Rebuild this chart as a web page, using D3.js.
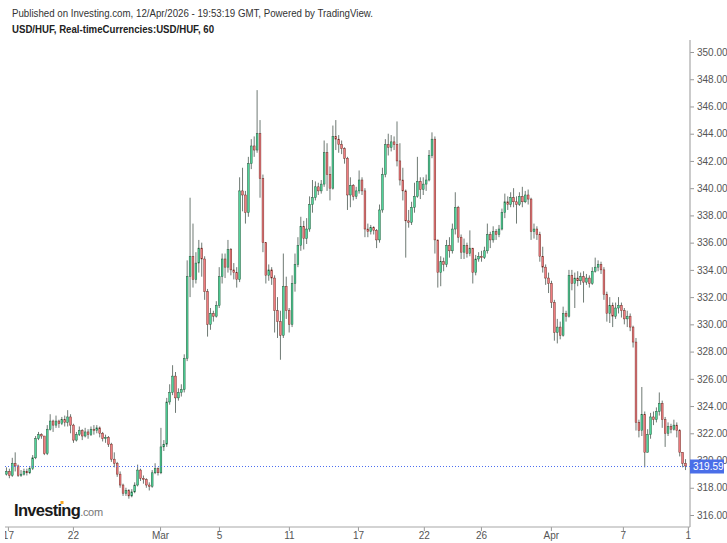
<!DOCTYPE html>
<html><head><meta charset="utf-8">
<script src="https://cdn.jsdelivr.net/npm/d3@7/dist/d3.min.js"></script>
<style>
body{margin:0;background:#fff}
svg{display:block}
text{font-family:Arial,"Liberation Sans",sans-serif}
</style>
</head><body>
<svg id="chart" width="727" height="543"></svg>
<script>
// ---------- DATA (4-hour candles, USD/HUF) ----------
const firstOpen = 319.0;
const closes = [
319.2,318.9,319.8,319.6,318.9,319.0,319.2,319.1,319.4,320.2,
321.6,321.9,321.8,320.5,322.3,322.9,322.6,322.9,322.7,323.0,
322.8,323.2,322.6,321.5,321.9,322.2,321.8,322.1,321.9,322.3,
322.2,322.4,322.0,321.6,321.7,321.2,320.1,319.8,319.0,318.2,
317.6,317.8,317.4,317.7,318.2,319.3,318.7,318.6,318.2,318.1,
319.1,319.4,319.1,
321.0,321.2,324.3,325.0,326.2,324.6,325.0,325.2,327.5,333.5,
335.0,333.3,334.5,335.6,334.8,332.4,330.0,330.8,330.6,331.4,
333.5,334.8,334.2,335.5,334.0,333.8,333.3,339.8,339.5,338.2,
341.8,343.1,342.8,344.0,340.7,
336.0,333.6,334.0,333.4,331.0,330.2,329.2,332.8,331.0,330.0,
333.0,334.4,335.8,337.2,336.3,337.0,338.8,339.3,340.1,339.8,
340.3,342.6,341.0,340.0,343.8,343.6,343.2,342.9,342.2,
339.5,340.2,339.4,339.8,340.6,339.8,337.0,336.8,337.1,336.9,
336.2,338.4,341.0,343.2,343.0,343.4,343.2,342.0,340.6,339.8,
337.6,337.5,338.6,339.4,340.5,339.9,340.3,340.6,342.4,343.6,
336.2,
333.8,334.6,334.4,335.8,335.4,337.0,338.6,336.4,335.3,335.8,
335.2,335.6,333.8,334.8,335.0,334.9,335.4,336.6,336.2,336.8,
336.6,337.0,338.2,339.0,338.8,339.3,339.0,338.8,339.4,339.0,
339.5,339.2,336.8,
337.0,336.6,335.0,334.2,333.4,333.0,331.6,329.4,329.8,329.2,
330.8,330.6,333.6,333.0,333.4,333.2,333.5,333.1,333.4,333.0,
333.9,334.2,334.4,334.0,332.2,330.8,331.4,330.6,331.2,331.4,
331.0,330.4,330.6,329.8,328.7,322.8,322.2,323.4,320.6,321.9,
323.2,323.0,323.6,324.2,323.0,322.0,322.5,322.3,322.6,322.2,
320.6,319.8,319.6
];
const highs = [
319.5,319.4,320.2,320.6,319.7,319.3,319.4,319.4,319.6,320.4,
321.8,322.1,322.0,321.8,322.6,323.4,323.0,323.3,323.0,323.2,
323.3,323.7,323.4,322.7,322.1,322.5,322.3,322.4,322.3,322.5,
322.6,322.6,322.5,322.1,321.9,321.8,321.3,320.6,319.9,319.2,
318.3,318.0,317.9,317.9,318.4,319.7,319.4,318.9,318.7,318.4,
319.3,319.8,319.5,
322.4,321.5,324.6,325.6,327.0,326.5,325.3,325.6,327.8,334.7,
339.3,337.4,335.3,336.2,336.0,335.0,332.6,331.2,331.0,331.7,
334.2,335.2,335.2,336.2,335.6,334.5,334.2,340.8,341.5,339.8,
342.3,343.6,343.8,347.2,345.0,
341.0,336.0,334.4,334.2,333.6,332.0,331.0,335.2,333.5,331.2,
333.6,335.2,336.4,337.9,337.6,337.8,339.4,340.6,340.5,340.4,
340.6,343.5,343.3,341.6,344.6,345.0,343.9,343.5,343.0,
342.3,340.8,340.3,340.1,341.3,340.8,340.0,337.4,337.3,337.2,
337.0,338.8,341.5,343.6,344.0,343.9,343.8,344.9,343.3,341.5,
339.9,338.4,339.0,340.4,342.3,340.8,340.8,341.0,342.8,344.1,
343.8,
336.2,335.0,334.9,336.2,336.4,337.4,339.7,338.7,336.6,336.3,
336.0,336.9,335.6,335.1,335.3,335.4,335.7,337.4,336.8,337.2,
337.0,337.3,338.5,339.6,339.4,339.7,340.0,339.4,339.7,340.1,
339.8,339.9,339.3,
337.4,337.2,336.8,335.7,334.4,333.8,333.2,331.8,330.4,330.2,
331.3,331.0,334.0,334.0,333.8,333.9,333.8,333.9,333.7,333.6,
334.2,334.9,334.7,334.6,334.2,332.4,332.0,331.6,331.6,332.0,
331.6,331.2,331.0,330.8,329.9,329.0,323.0,325.4,323.6,322.3,
323.5,323.6,323.9,325.0,324.4,323.2,322.8,322.7,323.0,322.8,
322.3,320.5,320.1
];
const lows = [
318.9,318.7,318.8,319.2,318.8,318.8,318.9,318.9,319.0,319.3,
320.1,321.5,321.6,320.4,320.4,322.2,322.1,322.4,322.4,322.6,
322.5,322.5,322.0,321.3,321.4,321.8,321.5,321.7,321.6,321.8,
321.9,322.0,321.7,321.4,321.3,321.0,319.9,319.5,318.8,318.0,
317.4,317.4,317.2,317.3,317.6,318.1,318.5,318.3,318.0,317.8,
318.0,319.0,318.9,
319.0,320.7,321.0,324.1,324.8,323.5,324.4,324.7,325.0,327.3,
332.0,332.7,333.0,333.8,333.5,331.8,329.1,329.6,330.2,330.5,
331.2,333.0,333.4,333.8,333.6,333.3,332.7,333.1,338.3,337.4,
337.9,341.4,342.3,342.6,339.3,
335.3,333.0,333.2,332.9,329.4,329.0,327.4,329.0,330.4,329.4,
329.8,332.4,334.2,335.4,335.5,335.9,336.8,338.2,339.1,339.5,
339.6,340.1,339.8,339.1,339.9,342.8,342.6,342.5,341.8,
338.4,338.6,339.1,339.2,339.6,339.5,336.4,336.4,336.6,336.6,
335.6,336.0,338.2,340.8,342.4,342.7,342.8,341.6,340.2,339.1,
334.9,337.1,337.3,338.2,339.3,339.2,339.5,339.8,340.5,342.2,
335.2,
332.7,332.8,333.9,334.2,334.9,335.2,336.6,336.0,334.8,334.8,
334.9,335.0,333.0,333.6,334.6,334.6,334.8,335.2,335.6,336.0,
336.2,336.4,336.9,337.8,338.4,338.6,338.6,337.4,338.7,338.6,
338.9,338.8,336.2,
336.3,336.2,334.6,333.8,332.9,332.3,331.2,328.8,328.6,328.9,
329.1,330.2,330.5,332.5,331.2,332.8,332.9,331.6,332.9,332.7,
332.9,333.8,333.9,333.7,331.8,330.2,330.1,329.8,330.4,330.8,
330.5,330.0,329.8,329.5,328.3,322.2,321.7,321.8,319.5,320.8,
321.6,322.6,322.8,323.3,322.4,321.0,321.8,322.0,322.2,321.7,
320.3,319.5,319.3
];
const yTicks = [316,318,320,322,324,326,328,330,332,334,336,338,340,342,344,346,348,350];
const xTickLabels = ["17","22","Mar","5","11","17","22","26","Apr","7","1"];
const xTickBars = [0.5,22.8,52.7,72.9,96.9,120.6,143.2,162.8,186.8,211.5,233.8];
const lastPrice = 319.59;
const titleText = "Published on Investing.com, 12/Apr/2026 - 19:53:19 GMT, Powered by TradingView.";
const subtitleText = "USD/HUF, Real-timeCurrencies:USD/HUF, 60";

// ---------- BUILD ----------
const candles = closes.map((c, i) => {
  const o = i === 0 ? firstOpen : closes[i - 1];
  return {i, o, c, h: Math.max(highs[i], o, c), l: Math.min(lows[i], o, c)};
});

const svg = d3.select("#chart");
const left = 5, right = 690, plotRight = 687;
const x = d3.scaleLinear().domain([-0.5, candles.length - 0.5]).range([left, plotRight]);
const y = d3.scaleLinear().domain([316, 350]).range([515, 52]);

const defs = svg.append("defs");
defs.append("clipPath").attr("id", "plot")
  .append("rect").attr("x", left).attr("y", 38).attr("width", right - left).attr("height", 489);
defs.append("clipPath").attr("id", "xlab")
  .append("rect").attr("x", left).attr("y", 527).attr("width", right - left + 1).attr("height", 16);

// titles
svg.append("text").attr("x", 12).attr("y", 17).attr("font-size", 11).attr("fill", "#333")
  .attr("textLength", 361).attr("lengthAdjust", "spacingAndGlyphs").text(titleText);
svg.append("text").attr("x", 12).attr("y", 33).attr("font-size", 11).attr("font-weight", "bold").attr("fill", "#222")
  .attr("textLength", 202).attr("lengthAdjust", "spacingAndGlyphs").text(subtitleText);

// logo
const logo = svg.append("text").attr("x", 14).attr("y", 516);
logo.append("tspan").attr("font-size", 16.5).attr("font-weight", "bold").attr("fill", "#1a1a1a").attr("letter-spacing", -0.7).text("Investing");
logo.append("tspan").attr("font-size", 11).attr("fill", "#777").attr("letter-spacing", -0.3).text(".com");
svg.append("rect").attr("x", 60.5).attr("y", 501).attr("width", 3).attr("height", 3).attr("fill", "#f5a623");

// candles
const g = svg.append("g").attr("clip-path", "url(#plot)");
const bw = 1.8;
g.selectAll("line.wick").data(candles).join("line")
  .attr("class", "wick")
  .attr("x1", d => x(d.i)).attr("x2", d => x(d.i))
  .attr("y1", d => y(d.h)).attr("y2", d => y(d.l))
  .attr("stroke", "#6f7a74").attr("stroke-width", 1);
g.selectAll("rect.body").data(candles).join("rect")
  .attr("class", "body")
  .attr("x", d => x(d.i) - bw / 2)
  .attr("width", bw)
  .attr("y", d => y(Math.max(d.o, d.c)))
  .attr("height", d => Math.max(0.8, Math.abs(y(d.o) - y(d.c))))
  .attr("fill", d => d.c >= d.o ? "#4fd39a" : "#f07c80")
  .attr("stroke", d => d.c >= d.o ? "#225437" : "#6b2a22")
  .attr("stroke-width", 0.45);

// y axis
const yAxis = d3.axisRight(y).tickValues(yTicks).tickFormat(d3.format(".2f")).tickSize(4).tickPadding(3);
const ya = svg.append("g").attr("transform", `translate(${right},0)`).call(yAxis);
ya.select(".domain").remove();
ya.selectAll("line").attr("stroke", "#999");
ya.selectAll("text").attr("fill", "#555").attr("font-size", 10).attr("font-family", "Arial, 'Liberation Sans', sans-serif");
svg.append("line").attr("x1", right).attr("x2", right).attr("y1", 40).attr("y2", 527).attr("stroke", "#a8a8a8").attr("stroke-width", 1.2);

// x axis (clip wrapper in page coordinates, axis translated inside)
const xAxis = d3.axisBottom(x).tickValues(xTickBars).tickFormat((d, i) => xTickLabels[i]).tickSize(4).tickPadding(1);
const xWrap = svg.append("g").attr("clip-path", "url(#xlab)");
const xa = xWrap.append("g").attr("transform", "translate(0,527)").call(xAxis);
xa.select(".domain").remove();
xa.selectAll("line").attr("stroke", "#999");
xa.selectAll("text").attr("fill", "#555").attr("font-size", 10).attr("font-family", "Arial, 'Liberation Sans', sans-serif");
svg.append("line").attr("x1", left).attr("x2", right).attr("y1", 527).attr("y2", 527).attr("stroke", "#a8a8a8").attr("stroke-width", 1.2);

// last price line + label
const ly = Math.round(y(lastPrice)) + 0.5;
svg.append("line").attr("x1", left).attr("x2", right).attr("y1", ly).attr("y2", ly)
  .attr("stroke", "#4c6ef0").attr("stroke-width", 1).attr("stroke-dasharray", "1,2");
svg.append("rect").attr("x", right).attr("y", ly - 7).attr("width", 34).attr("height", 14).attr("fill", "#4a6ee8");
svg.append("text").attr("x", right + 3).attr("y", ly + 3.5).attr("font-size", 10).attr("fill", "#fff").text(d3.format(".2f")(lastPrice));
</script>
</body></html>
